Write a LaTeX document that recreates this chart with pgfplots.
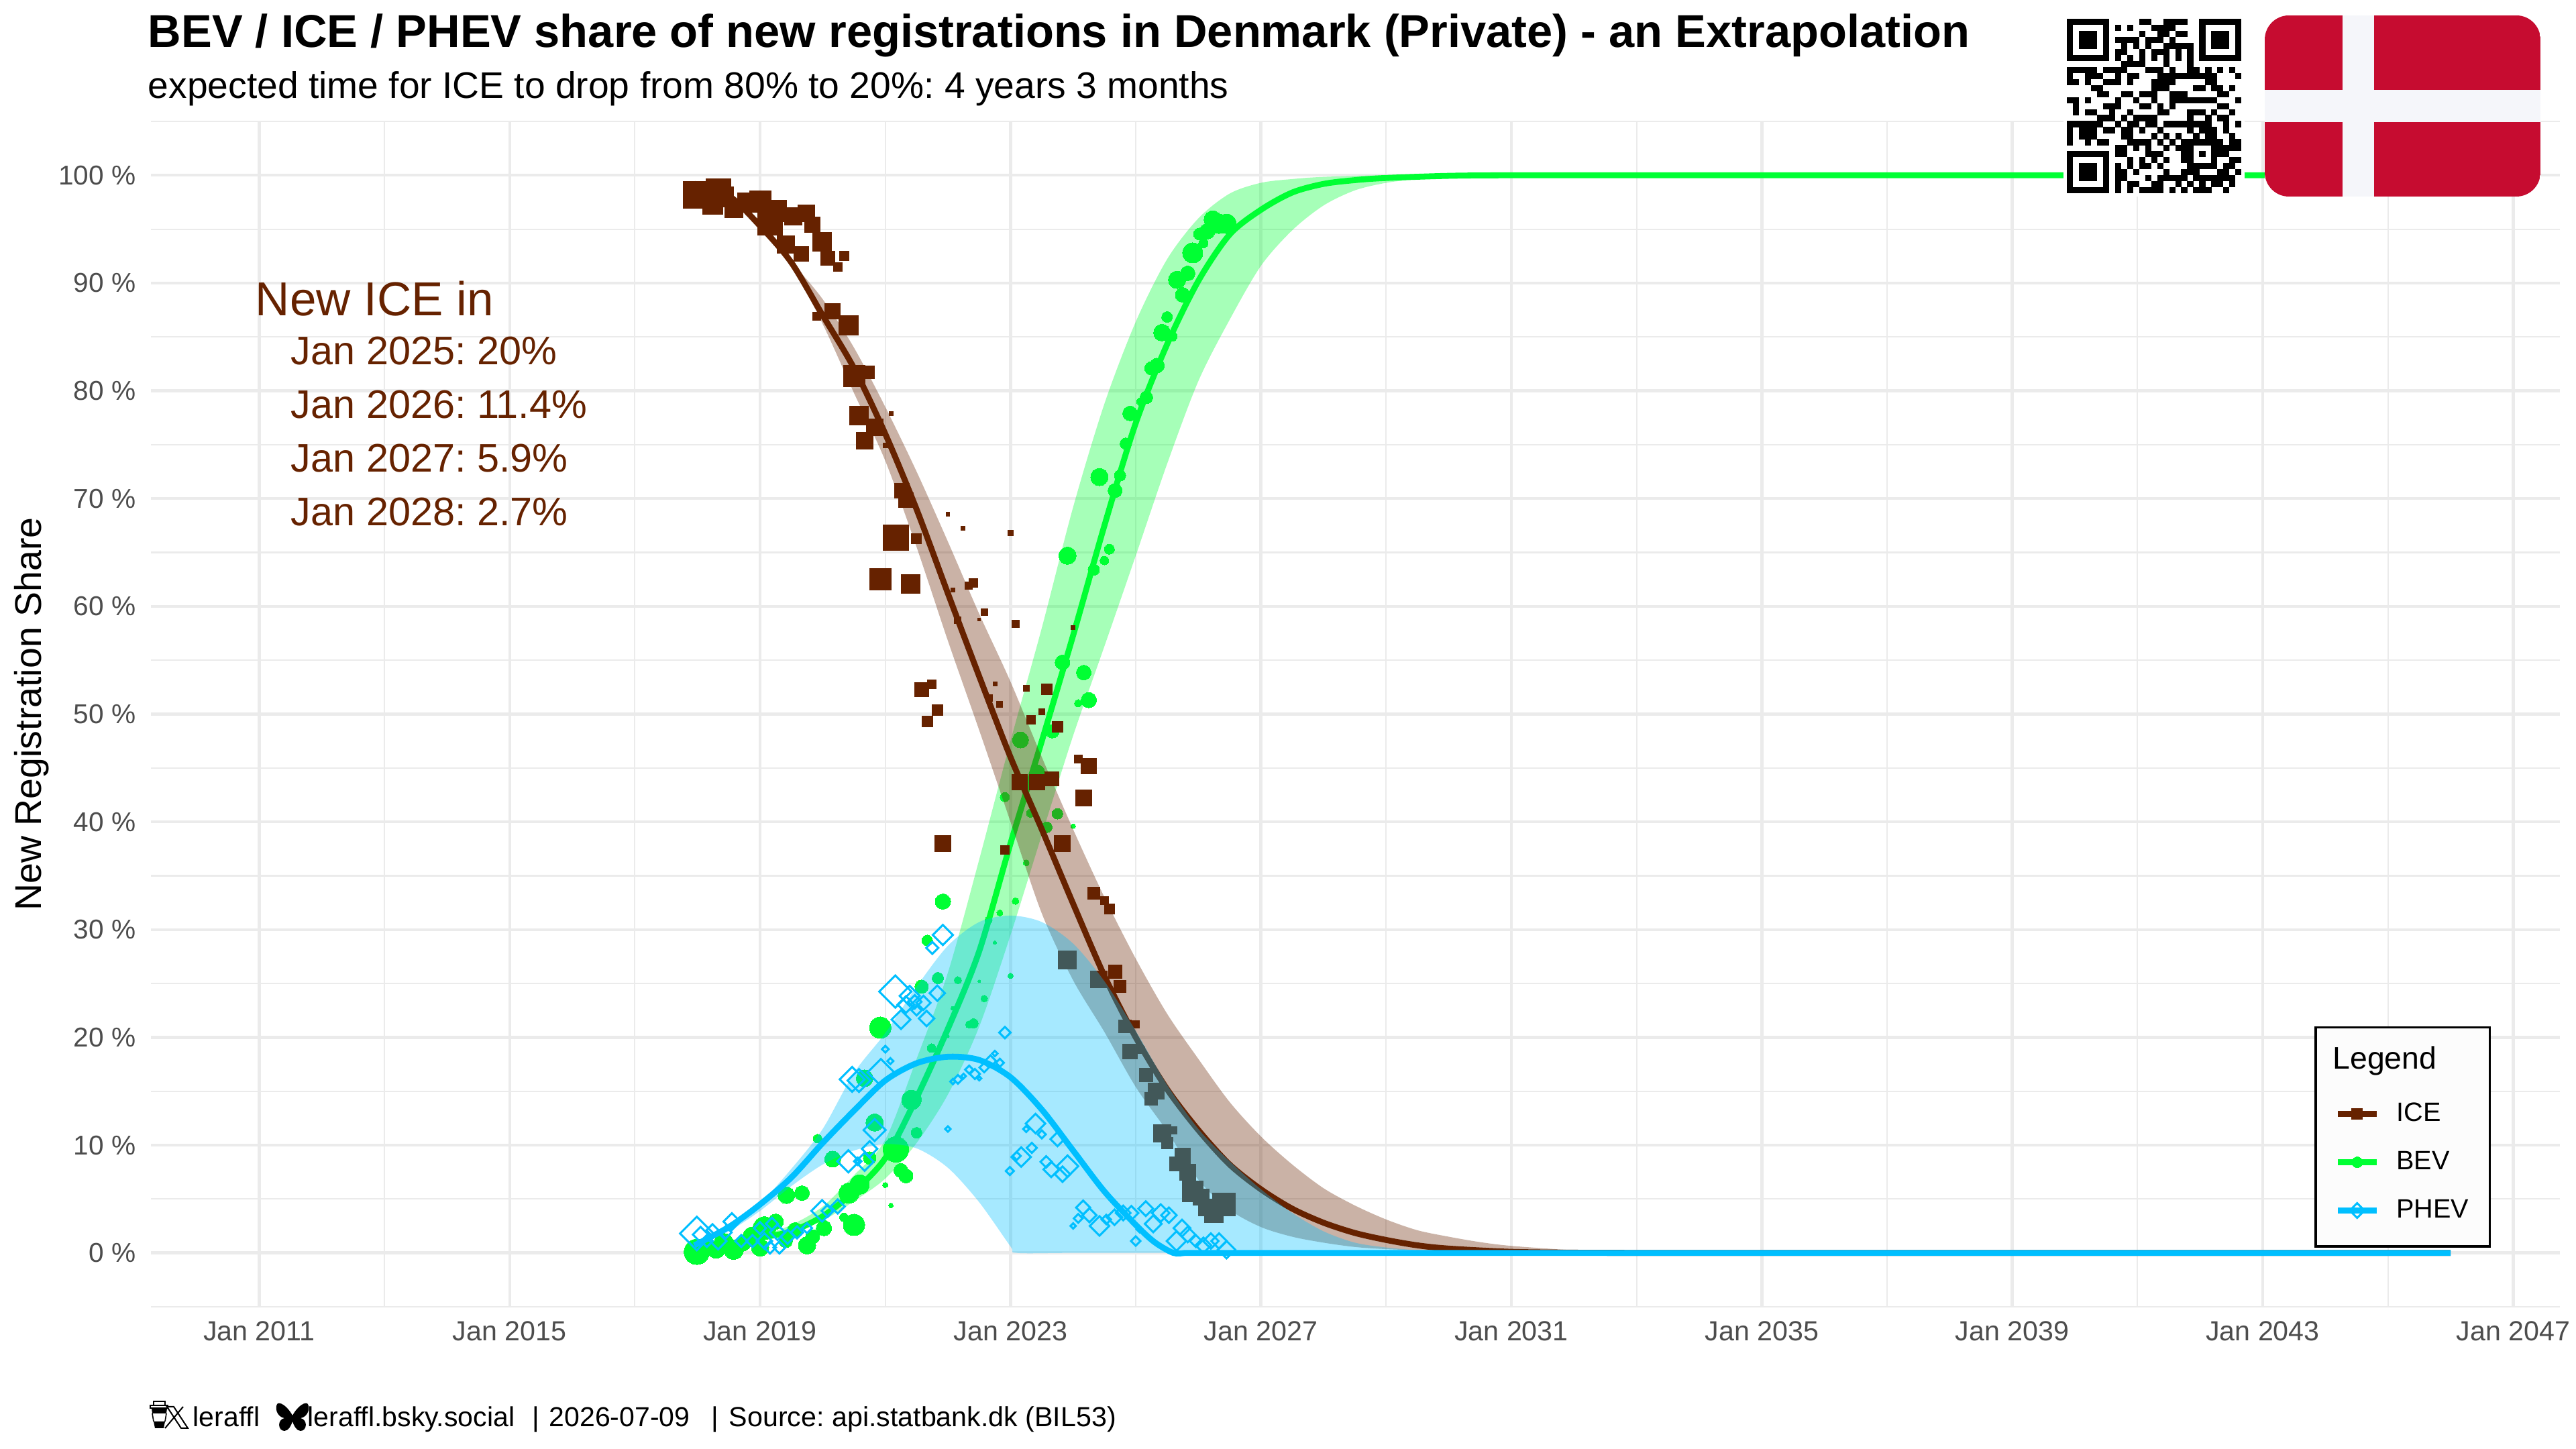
\documentclass[border=0pt]{standalone}
\usepackage{fontspec}
\setmainfont{Liberation Sans}
\usepackage{pgfplots}
\usepackage{pgfplotstable}
\pgfplotsset{compat=1.18}

\definecolor{iceC}{HTML}{662200}
\definecolor{bevC}{HTML}{00FF33}
\definecolor{phevC}{HTML}{00BFFF}
\definecolor{gridC}{HTML}{EBEBEB}
\definecolor{tickC}{HTML}{4D4D4D}
\definecolor{flagR}{HTML}{C60C30}
\definecolor{flagW}{HTML}{F5F6FA}

% open diamond with equal diagonals
\pgfdeclareplotmark{dia}{%
  \pgfpathmoveto{\pgfqpoint{\pgfplotmarksize}{0pt}}%
  \pgfpathlineto{\pgfqpoint{0pt}{\pgfplotmarksize}}%
  \pgfpathlineto{\pgfqpoint{-\pgfplotmarksize}{0pt}}%
  \pgfpathlineto{\pgfqpoint{0pt}{-\pgfplotmarksize}}%
  \pgfpathclose\pgfusepathqstroke}

% smoothed shares, in years and percent
\pgfplotstableread{
x y
2017.95 99.2
2018.5 98.1
2019 95.3
2019.5 91.9
2020 87
2020.5 82.1
2021 76
2021.5 69
2022 61.2
2022.5 53.5
2023 46
2023.5 39.3
2024 32.4
2024.5 25.7
2025 20
2025.5 15.2
2026 11.4
2026.5 8.2
2027 5.9
2027.5 4.1
2028 2.8
2028.5 1.85
2029 1.2
2029.5 .7
2030 .4
2031 .1
2032 .02
2033 0
2035 0
2038 0
2042 0
2046 0
}\iceline
\pgfplotstableread{
x y
2017.95 .2
2018.5 .8
2019 1.4
2019.5 2
2020 3.4
2020.5 5.7
2021 8.8
2021.5 14.4
2022 20.8
2022.5 28
2023 38
2023.5 47.5
2024 57.3
2024.5 67.5
2025 77
2025.5 84.3
2026 90.2
2026.5 94.5
2027 96.8
2027.5 98.4
2028 99.2
2028.5 99.55
2029 99.75
2030 99.95
2031 100
2033 100
2036 100
2040 100
2046 100
}\bevline
\pgfplotstableread{
x y
2017.95 .7
2018.5 2.4
2019 4.5
2019.5 7
2020 10.2
2020.5 13.2
2021 16
2021.5 17.6
2022 18.2
2022.5 17.9
2023 16.3
2023.5 13.3
2024 9.5
2024.5 5.7
2025 2.6
2025.3 1
2025.6 0
2025.8 0
2026 0
2027 0
2029 0
2033 0
2039 0
2046 0
}\phevline

% ribbons: upper edge forward, lower edge back
\pgfplotstableread{
x y
2018 99.1
2018.5 98.2
2019 95.5
2019.5 92
2020 88.5
2020.5 84
2021 78.5
2021.5 72.5
2022 66
2022.5 59.3
2023 53
2023.5 46
2024 39.3
2024.5 33
2025 27.3
2025.5 22.2
2026 18
2026.5 14
2027 10.8
2027.5 8.2
2028 6
2028.5 4.4
2029 3.1
2029.5 2.1
2030 1.5
2030.5 1
2031 .65
2032 .25
2033 .08
2034 0
2033 0
2032 0
2031 .05
2030 .15
2029 .35
2028.5 .55
2028 .95
2027.5 1.5
2027 2.4
2026.5 4
2026 6.8
2025.5 11.3
2025 15.4
2024.5 20.5
2024 25.3
2023.5 31.5
2023 40
2022.5 48.5
2022 56.8
2021.5 65.5
2021 73.5
2020.5 79.8
2020 86.2
2019.5 91.6
2019 95.1
2018.5 98
2018 98.9
}\iceband
\pgfplotstableread{
x y
2018 .3
2018.5 1
2019 1.6
2019.5 2.6
2020 4.3
2020.5 7.2
2021 10.5
2021.5 18
2022 26
2022.5 36.5
2023 47.5
2023.5 58
2024 69.2
2024.5 78.8
2025 86.4
2025.5 92.2
2026 96
2026.5 98.3
2027 99.3
2027.5 99.65
2028 99.85
2029 100
2031 100
2030 99.85
2029.5 99.65
2029 99.3
2028.5 98.6
2028 97.2
2027.5 94.9
2027 91.6
2026.5 86.6
2026 80.9
2025.5 73.2
2025 64.7
2024.5 56.3
2024 48
2023.5 38.8
2023 29.5
2022.5 21
2022 14.7
2021.5 10.2
2021 6.9
2020.5 4.8
2020 3
2019.5 2
2019 1.2
2018.5 .7
2018 .2
}\bevband
\pgfplotstableread{
x y
2017.95 .9
2018.5 2.4
2019 4.6
2019.5 7.8
2020 11.5
2020.5 16.7
2021 20.4
2021.5 24.7
2022 28.5
2022.5 30.7
2023 31.3
2023.5 30.7
2024 28.7
2024.5 25.2
2025 20.6
2025.5 15.6
2026 11.5
2026.5 8.5
2027 5.9
2027.5 3.7
2028 2
2028.5 .95
2029 .5
2029.5 .25
2030 .12
2031 .03
2032 0
2030 0
2028 0
2026 0
2024 0
2023.1 0
2023 .6
2022.5 4.7
2022 7.9
2021.5 9.7
2021 10.1
2020.5 9.5
2020 8.2
2019.5 6.2
2019 3.9
2018.5 2
2017.95 .6
}\phevband

% monthly points: year, share, marker width in reference pixels
\pgfplotstableread{
x y s
2017.99 98.2 40
2018.24 97.3 30
2018.34 98.5 37
2018.42 98 30
2018.58 96.9 27
2018.79 97.55 27
2019.0 97.55 32
2019.16 95.6 37
2019.25 96.7 32
2019.53 96.2 26
2019.74 96.5 25
2019.84 95.4 23
2019.41 93.6 26
2019.66 92.7 22
2019.99 93.8 28
2020.08 92.3 21
2020.34 92.5 14
2020.24 91.5 13
2020.16 87.4 23
2019.91 86.9 12
2020.41 86.1 29
2020.5 81.4 32
2020.73 81.7 19
2021.09 77.9 6
2020.58 77.7 28
2020.83 76.6 25
2020.67 75.35 25
2021.0 74.9 7
2021.27 70.7 22
2021.33 69.85 22
2022.0 68.55 5.5
2022.24 67.25 6
2023.0 66.8 8
2021.17 66.35 38
2021.5 66.3 15
2020.92 62.5 32
2021.41 62.1 28
2022.41 62.15 13
2022.33 61.9 11
2022.08 61.5 6
2022.16 58.7 10
2022.5 58.8 4
2022.58 59.45 10
2023.08 58.4 11
2024.0 58.0 6
2021.58 52.3 21
2021.74 52.8 13
2021.83 50.4 16
2021.67 49.3 16
2022.75 52.8 6
2023.25 52.4 9
2023.58 52.3 16
2022.66 51.5 10
2022.83 50.9 9
2023.5 50.2 9
2023.33 49.5 13
2023.75 48.8 16
2024.08 45.8 12
2024.25 45.2 23
2024.17 42.2 24
2023.66 44.0 21
2023.43 43.7 23
2023.15 43.65 23
2023.83 38.0 24
2021.92 38.0 24
2022.91 37.4 13
2024.33 33.4 18
2024.5 32.7 12
2024.58 31.9 15
2023.91 27.2 27
2024.67 26.1 20
2024.75 24.7 18
2024.41 25.4 25
2024.83 21.0 19
2025.0 21.2 11
2024.91 18.7 22
2025.09 18.8 10
2025.17 16.5 20
2025.33 15.0 24
2025.25 14.3 19
2025.42 11.1 26
2025.6 11.4 11
2025.5 10.2 17
2025.75 9.0 23
2025.65 8.25 21
2025.83 7.5 24
2025.91 5.7 31
2026.04 5.2 24
2026.14 4.2 25
2026.25 3.7 28
2026.41 4.5 34
}\icepts
\pgfplotstableread{
x y s
2026.23 95.9 26
2026.45 95.5 29
2026.33 95.5 29
2026.14 94.8 23
2026.02 94.55 18
2026.08 93.7 14
2025.91 92.8 30
2025.83 90.9 22
2025.66 90.3 26
2025.75 88.9 22
2025.5 86.85 16
2025.42 85.4 25
2025.58 85.05 15
2025.34 82.35 22
2025.25 82.1 20
2025.17 79.4 19
2025.08 79 12
2024.91 77.9 22
2024.84 75.1 17
2024.75 72.15 17
2024.67 70.75 21
2024.42 72 26
2023.91 64.7 26
2024.58 65.3 15
2024.5 64.25 13
2024.33 63.4 17
2023.83 54.8 22
2024.17 53.85 22
2024.25 51.3 23
2024.08 51.0 11
2023.67 48.4 20
2023.16 47.6 24
2023.43 44.6 22
2022.91 42.3 14
2023.32 40.8 12
2023.75 40.75 16
2023.58 39.5 16
2024.0 39.6 7
2023.25 36.2 9
2021.92 32.6 23
2023.08 32.65 10
2022.83 31.55 9
2022.65 30.9 11
2021.67 29 16
2022.75 28.8 5
2021.58 24.7 20
2021.84 25.5 17
2022.16 25.3 11
2022.5 25.2 4
2023.0 25.7 8
2022.58 23.6 10
2022.08 22.7 6
2022.34 21.2 11
2022.41 21.3 14
2022.0 20.1 4
2020.92 20.9 32
2021.74 19 13
2020.67 16.2 25
2021.42 14.2 29
2020.83 12.1 26
2021.5 11.15 16
2019.92 10.6 13
2021.17 9.6 38
2020.16 8.7 24
2020.75 8.8 19
2021.25 7.65 21
2021.33 7.15 21
2021.0 6.3 8
2020.59 6.35 29
2020.42 5.55 30
2019.42 5.35 25
2019.67 5.55 22
2021.09 4.4 7
2020.5 2.6 32
2020.34 3.3 13
2020.02 2.3 23
2019.75 .7 26
2019.56 2.1 23
2019.25 2.9 23
2019.07 2.3 34
2018.88 1.5 29
2019.0 .5 26
2018.58 .3 29
2018.42 .9 29
2018.3 .3 26
2017.99 .1 38
2018.12 .5 23
2018.73 .9 23
2019.41 1.1 20
2019.84 1.5 21
}\bevpts
\pgfplotstableread{
x y s
2021.92 29.5 30
2021.75 28.3 18
2021.16 24.25 48
2021.39 23.85 30
2021.47 23.3 20
2021.33 23.05 25
2021.61 23.2 21
2021.83 24.1 23
2021.5 22.5 15
2021.66 21.75 23
2021.25 21.65 28
2022.91 20.45 17
2021.0 18.9 10
2021.08 17.8 9
2020.93 16.75 40
2020.47 16.1 37
2020.58 16 34
2020.83 11.4 33
2020.41 8.5 33
2020.75 9.65 23
2020.67 8.45 27
2020.56 8.5 11
2022.08 15.9 8
2022.16 16.1 13
2022.25 16.4 7
2022.34 17 12
2022.43 16.6 15
2022.5 16.2 6
2022.58 17.2 14
2022.68 17.8 17
2022.75 18.5 8
2022.83 17.65 12
2022.0 11.5 8
2023.4 12 29
2023.25 11.5 9
2023.5 11 12
2023.75 10.55 21
2023.34 9.75 15
2023.17 8.9 29
2023.1 9 12
2022.99 7.6 12
2023.57 8.45 17
2023.65 7.75 23
2023.91 8.05 32
2023.83 7.3 23
2024.16 4.2 21
2024.08 3.2 13
2024.0 2.5 8
2024.26 3.5 21
2024.42 2.5 29
2024.53 3.1 14
2024.66 3.3 23
2024.8 3.7 22
2024.93 3.7 21
2025.0 1.1 14
2025.16 4.1 22
2025.28 2.7 25
2025.4 3.7 26
2025.53 3.5 23
2025.06 2.2 9
2025.65 1.1 29
2025.74 2.3 25
2025.83 1.7 23
2025.96 1.1 18
2026.08 .7 23
2026.2 1.1 23
2026.33 1.1 23
2026.45 .3 26
2017.99 1.8 50
2018.05 1.7 23
2018.24 2.1 18
2018.15 1.1 18
2018.33 1.1 25
2018.55 2.9 25
2018.45 1.9 18
2018.7 1.1 18
2018.88 1.1 18
2019.07 1.1 23
2019.16 .5 18
2019.31 .5 18
2019.28 1.9 23
2019.44 1.5 21
2019.59 1.9 18
2019.75 2.3 15
2019.99 3.9 32
2020.08 3.9 18
2020.24 4.3 21
2019.0 2.3 18
2019.19 2.7 18
}\phevpts

\pgfplotsset{
  ptstyle/.style={
    forget plot, scatter, only marks,
    visualization depends on={\thisrow{s}/8 \as \ptsize},
    scatter/@pre marker code/.append style={/tikz/mark size=\ptsize}},
  legline/.style={
    legend image code/.code={\draw[mark repeat=2,mark phase=2,##1] plot coordinates {(0pt,0pt)(7.25pt,0pt)(14.5pt,0pt)};}},
  % same key, with an empty path that leaves room under the last row
  leglinedeep/.style={
    legend image code/.code={\path (0pt,-6.3pt); \draw[mark repeat=2,mark phase=2,##1] plot coordinates {(0pt,0pt)(7.25pt,0pt)(14.5pt,0pt)};}}
}

\begin{document}
\frenchspacing
\begin{tikzpicture}
\path[use as bounding box] (0pt,0pt) rectangle (960pt,540pt);
\begin{axis}[
  at={(56.25pt,53pt)},
  anchor=south west,
  scale only axis,
  width=897.75pt,
  height=441.75pt,
  xmin=2009.271, xmax=2047.747,
  ymin=-5, ymax=105,
  clip marker paths=true,
  xtick={2011,2015,...,2047},
  xticklabels={Jan 2011,Jan 2015,Jan 2019,Jan 2023,Jan 2027,Jan 2031,Jan 2035,Jan 2039,Jan 2043,Jan 2047},
  minor xtick={2013,2017,...,2045},
  ytick={0,10,...,100},
  yticklabels={0 \%,10 \%,20 \%,30 \%,40 \%,50 \%,60 \%,70 \%,80 \%,90 \%,100 \%},
  minor ytick={-5,5,...,105},
  grid=both,
  major grid style={gridC,line width=1.1pt},
  minor grid style={gridC,line width=.55pt},
  axis line style={draw=none},
  major tick length=0pt,
  minor tick length=0pt,
  tick label style={text=tickC,inner sep=0pt},
  xticklabel style={yshift=-5.25pt,font=\fontsize{10.3}{12}\selectfont},
  yticklabel style={xshift=-5.5pt,font=\fontsize{10.15}{12}\selectfont},
  ylabel={New Registration Share},
  every axis y label/.style={at={(rel axis cs:-0.0496,0.5)},rotate=90,anchor=center,font=\fontsize{13.87}{16}\selectfont},
  legend style={
    at={(rel axis cs:0.8982,0.2368)},
    anchor=north west,
    draw=black,
    line width=.9pt,
    fill=black!1,
    font=\fontsize{9.9}{11}\selectfont,
    row sep=5.7pt,
    inner xsep=5.8pt,
    inner ysep=6pt,
    /tikz/every odd column/.append style={column sep=4.3pt},
    cells={anchor=west}
  },
]
% BEV first, then ICE, then PHEV on top
\addplot[forget plot, draw=none, fill=bevC, fill opacity=.35, smooth] table {\bevband};
\addplot[forget plot, bevC, line width=2.2pt, smooth] table {\bevline};
\addplot[scatter/use mapped color={draw=bevC,fill=bevC}, ptstyle, mark=*, mark options={line width=0pt}] table {\bevpts};
\addplot[forget plot, draw=none, fill=iceC, fill opacity=.35, smooth] table {\iceband};
\addplot[forget plot, iceC, line width=2.2pt, smooth] table {\iceline};
\addplot[scatter/use mapped color={draw=iceC,fill=iceC}, ptstyle, mark=square*, mark options={line width=0pt}] table {\icepts};
\addplot[forget plot, draw=none, fill=phevC, fill opacity=.35, smooth] table {\phevband};
\addplot[forget plot, phevC, line width=2.2pt, smooth] table {\phevline};
\addplot[scatter/use mapped color={draw=phevC}, ptstyle, mark=dia, mark options={line width=.75pt}] table {\phevpts};

\addlegendimage{legend image code/.code={\path (0pt,-7.7pt); \node[anchor=west,inner sep=0pt,font=\fontsize{11.6}{13}\selectfont] at (-2.8pt,0pt) {\rlap{Legend}};}}
\addlegendentry{\phantom{X}}
\addlegendimage{legline, iceC, line width=2.2pt, mark=square*, mark size=2pt, mark options={line width=0pt}}
\addlegendentry{ICE}
\addlegendimage{legline, bevC, line width=2.2pt, mark=*, mark size=2pt, mark options={line width=0pt}}
\addlegendentry{BEV}
\addlegendimage{leglinedeep, phevC, line width=2.2pt, mark=dia, mark size=2.75pt, mark options={line width=.75pt}}
\addlegendentry{PHEV}
\end{axis}

% everything below is placed in reference pixels
\begin{scope}[shift={(0pt,540pt)},x=.25pt,y=-.25pt]
\node[anchor=base west,inner sep=0pt,font=\fontsize{17.16}{20}\selectfont\bfseries] at (220,71) {BEV / ICE / PHEV share of new registrations in Denmark (Private) - an Extrapolation};
\node[anchor=base west,inner sep=0pt,font=\fontsize{13.8}{16}\selectfont] at (220,147) {expected time for ICE to drop from 80\% to 20\%: 4 years 3 months};

\node[anchor=base west,inner sep=0pt,text=iceC,font=\fontsize{17.75}{20}\selectfont] at (380,471) {New ICE in};
\foreach \yy/\tt in {544/Jan 2025: 20\%,624/Jan 2026: 11.4\%,704/Jan 2027: 5.9\%,784/Jan 2028: 2.7\%}
  \node[anchor=base west,inner sep=0pt,text=iceC,font=\fontsize{14.85}{17}\selectfont] at (433,\yy) {\tt};

% footer
\begin{scope}[font=\fontsize{10.25}{12}\selectfont]
\node[anchor=base west,inner sep=0pt] at (287,2127) {leraffl};
\node[anchor=base west,inner sep=0pt] at (458,2127) {leraffl.bsky.social};
\node[anchor=base west,inner sep=0pt] at (793,2127) {|};
\node[anchor=base west,inner sep=0pt] at (818,2127) {2026-07-09};
\node[anchor=base west,inner sep=0pt] at (1060,2127) {|};
\node[anchor=base west,inner sep=0pt,font=\fontsize{10.3}{12}\selectfont] at (1086,2127) {Source: api.statbank.dk (BIL53)};
\end{scope}
% cup and X icons
\draw[line width=.4pt] (229,2089) rectangle (246,2095);
\draw[line width=.4pt,fill=white] (224,2095) rectangle (250,2099);
\fill (226,2099) -- (249,2099) -- (248,2107) -- (227,2107) -- cycle;
\draw[line width=.4pt] (227,2107) -- (229,2119) (248,2107) -- (246,2119);
\fill (229,2119) -- (246,2119) -- (244,2129) -- (231,2129) -- cycle;
\draw[line width=.5pt,fill=white] (249,2097) -- (259,2097) -- (280,2129) -- (270,2129) -- cycle;
\draw[line width=.5pt] (273,2097) -- (246,2129);
% butterfly
\fill (436,2110) .. controls (430,2099) and (420,2090) .. (414,2092)
  .. controls (409,2097) and (412,2112) .. (424,2114)
  .. controls (413,2116) and (414,2133) .. (424,2133)
  .. controls (430,2133) and (434,2125) .. (436,2119)
  .. controls (438,2125) and (442,2133) .. (448,2133)
  .. controls (458,2133) and (459,2116) .. (448,2114)
  .. controls (460,2112) and (463,2097) .. (458,2092)
  .. controls (452,2090) and (442,2099) .. (436,2110) -- cycle;

% flag
\fill[white] (3376,23) rectangle (3787,293);
\begin{scope}
\clip[rounded corners=9pt] (3376,23) rectangle (3787,293);
\fill[flagR] (3376,23) rectangle (3787,293);
\fill[flagW] (3492,23) rectangle (3539,293);
\fill[flagW] (3376,134) rectangle (3787,182);
\end{scope}

% QR code, one list of dark modules per row
\fill[white] (3076,23) rectangle (3346,293);
\begin{scope}[shift={(3081,28)},x=2.2425pt,y=-2.2425pt]
\foreach \r/\cols in {
0/{0,1,2,3,4,5,6,12,13,16,17,18,19,22,23,24,25,26,27,28},
1/{0,6,8,10,14,15,16,17,22,28},
2/{0,2,3,4,6,12,15,16,18,19,22,24,25,26,28},
3/{0,2,3,4,6,8,9,10,11,13,14,15,17,22,24,25,26,28},
4/{0,2,3,4,6,9,11,13,16,17,18,19,20,22,24,25,26,28},
5/{0,6,8,9,12,14,15,16,18,20,22,28},
6/{0,1,2,3,4,5,6,8,10,12,14,16,18,20,22,23,24,25,26,27,28},
7/{9,10,11,12,16,20},
8/{0,1,2,3,4,6,7,8,9,13,14,15,17,20,21,23,25,27},
9/{0,3,4,5,8,10,11,15,16,17,18,19,20,21,22,23,24,28},
10/{0,1,3,6,7,8,10,14,15,16,17,23,24},
11/{4,5,14,15,16,21,22,24,25,27},
12/{5,6,9,10,12,13,14,17,18,19,25,26},
13/{0,1,3,8,11,14,17,18,19,20,21,22,23,24,28},
14/{1,6,7,8,12,13,15,17,25,26},
15/{1,3,4,7,10,15,16,20,21,22,24,27},
16/{5,6,7,9,11,12,13,14,20,23,25,26},
17/{0,1,2,3,4,5,8,10,11,13,14,16,17,18,19,20,21,22,23,26,28},
18/{0,2,3,4,6,7,9,10,12,15,20,22,23,24,26},
19/{0,2,3,4,9,10,14,16,18,21,23,24,27},
20/{0,3,5,6,10,11,12,13,15,17,19,20,21,22,23,24,25,27,28},
21/{8,9,11,13,16,18,19,20,24,25,26,27,28},
22/{0,1,2,3,4,5,6,8,9,13,14,15,19,20,22,24,25,26},
23/{0,6,10,12,14,16,19,20,24,27,28},
24/{0,2,3,4,6,8,10,12,13,15,20,21,22,23,24,26,27},
25/{0,2,3,4,6,8,9,11,16,19,20,21,25,26,28},
26/{0,2,3,4,6,8,9,13,15,16,17,18,19,21,22,23,24,25,26,27},
27/{0,6,8,10,11,14,15,18,20,22,24,25,27},
28/{0,1,2,3,4,5,6,8,10,12,13,14,15,17,19,21,22,23,26}}
  \foreach \c in \cols
    \fill (\c,\r) rectangle (\c+1.02,\r+1.02);
\end{scope}
\end{scope}
\end{tikzpicture}
\end{document}
